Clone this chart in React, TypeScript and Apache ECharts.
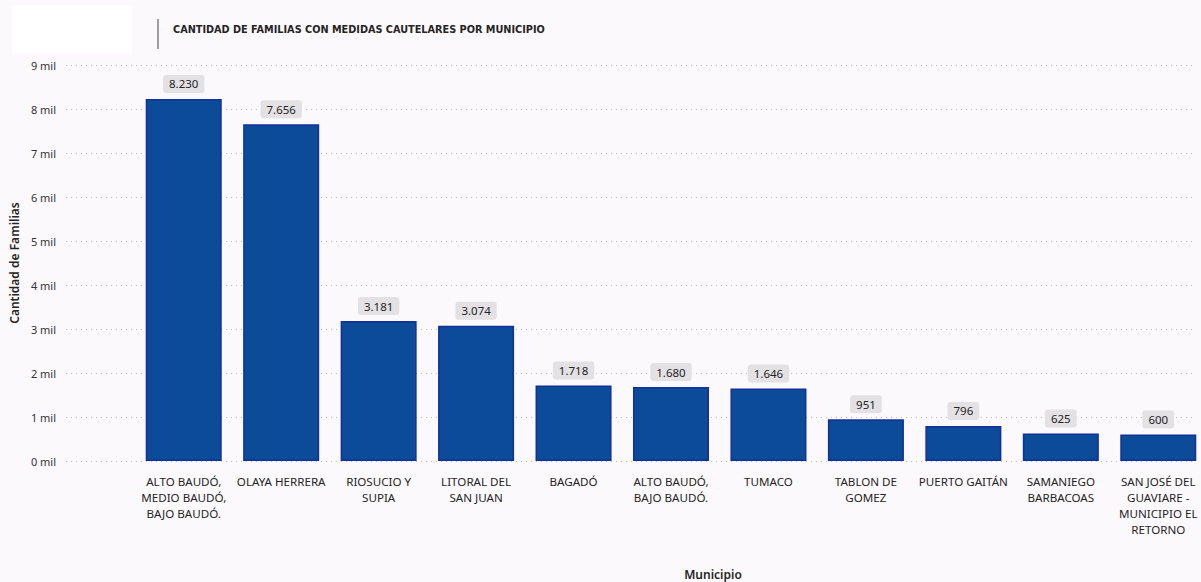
import React, { useEffect, useRef } from "react";
import * as echarts from "echarts";

const categories = [
  "ALTO BAUDÓ,\nMEDIO BAUDÓ,\nBAJO BAUDÓ.",
  "OLAYA HERRERA",
  "RIOSUCIO Y\nSUPIA",
  "LITORAL DEL\nSAN JUAN",
  "BAGADÓ",
  "ALTO BAUDÓ,\nBAJO BAUDÓ.",
  "TUMACO",
  "TABLON DE\nGOMEZ",
  "PUERTO GAITÁN",
  "SAMANIEGO\nBARBACOAS",
  "SAN JOSÉ DEL\nGUAVIARE -\nMUNICIPIO EL\nRETORNO",
];
const familias = [8230, 7656, 3181, 3074, 1718, 1680, 1646, 951, 796, 625, 600];
const yMax = 9000;
const yStep = 1000;

const fmtThousands = (v: number) =>
  String(Math.round(v)).replace(/\B(?=(\d{3})+(?!\d))/g, ".");

export default function App() {
  const ref = useRef<HTMLDivElement>(null);
  useEffect(() => {
    if (!ref.current) return;
    const chart = echarts.init(ref.current, null, { renderer: "svg" });
    const font = "'Noto Sans', 'Open Sans', sans-serif";
    chart.setOption({
      animation: false,
      backgroundColor: "#fcf9fd",
      textStyle: { fontFamily: font },
      graphic: [
        { type: "rect", shape: { x: 12, y: 5, width: 120, height: 48 }, style: { fill: "#ffffff" } },
        { type: "line", shape: { x1: 158, y1: 19, x2: 158, y2: 49 }, style: { stroke: "#444", lineWidth: 1 } },
        {
          type: "text",
          x: 173,
          y: 29,
          style: {
            text: "CANTIDAD DE FAMILIAS CON MEDIDAS CAUTELARES POR MUNICIPIO",
            font: "bold 10.8px 'DejaVu Sans Condensed'",
            fill: "#252423",
            textVerticalAlign: "middle",
          },
        },
        {
          type: "text",
          x: 713,
          y: 574,
          style: {
            text: "Municipio",
            font: "600 12px 'Noto Sans'",
            fill: "#252423",
            textAlign: "center",
            textVerticalAlign: "middle",
          },
        },
      ],
      grid: [
        { left: 135, width: 1072, top: 65, height: 396 },
        { left: 62, width: 1133, top: 65, height: 396 },
      ],
      xAxis: [
        {
          type: "category",
          gridIndex: 0,
          data: categories,
          axisLine: { show: false },
          axisTick: { show: false },
          axisLabel: {
            interval: 0,
            margin: 12,
            fontSize: 11.6,
            lineHeight: 16,
            color: "#252423",
            fontFamily: font,
          },
        },
        { type: "value", gridIndex: 1, show: false, min: 0, max: 1 },
      ],
      yAxis: [
        { type: "value", gridIndex: 0, min: 0, max: yMax, interval: yStep, show: false },
        {
          type: "value",
          gridIndex: 1,
          min: 0,
          max: yMax,
          interval: yStep,
          name: "Cantidad de Familias",
          nameLocation: "middle",
          nameGap: 46,
          nameTextStyle: { fontSize: 12, fontWeight: 600, color: "#252423", fontFamily: font },
          axisLine: { show: false },
          axisTick: { show: false },
          axisLabel: {
            margin: 10,
            fontSize: 11,
            color: "#333",
            formatter: (v: number) => `${v / 1000} mil`,
          },
          splitLine: { lineStyle: { type: [1, 4], color: "#bdbdbd", width: 1 } },
        },
      ],
      series: [
        {
          type: "bar",
          xAxisIndex: 0,
          yAxisIndex: 0,
          data: familias,
          barCategoryGap: "22%",
          itemStyle: { color: "#0b4b97", borderColor: "#12309c", borderWidth: 1.5 },
          label: {
            show: true,
            position: "top",
            distance: 6,
            formatter: (p: any) => fmtThousands(p.value),
            backgroundColor: "#e4e1e5",
            borderRadius: 3,
            padding: [3, 6, 3, 6],
            fontSize: 11.5,
            color: "#252423",
            fontFamily: font,
          },
        },
      ],
    });
    return () => chart.dispose();
  }, []);
  return (
    <div
      ref={ref}
      style={{ position: "fixed", left: 0, top: 0, width: 1210, height: 582 }}
    />
  );
}
